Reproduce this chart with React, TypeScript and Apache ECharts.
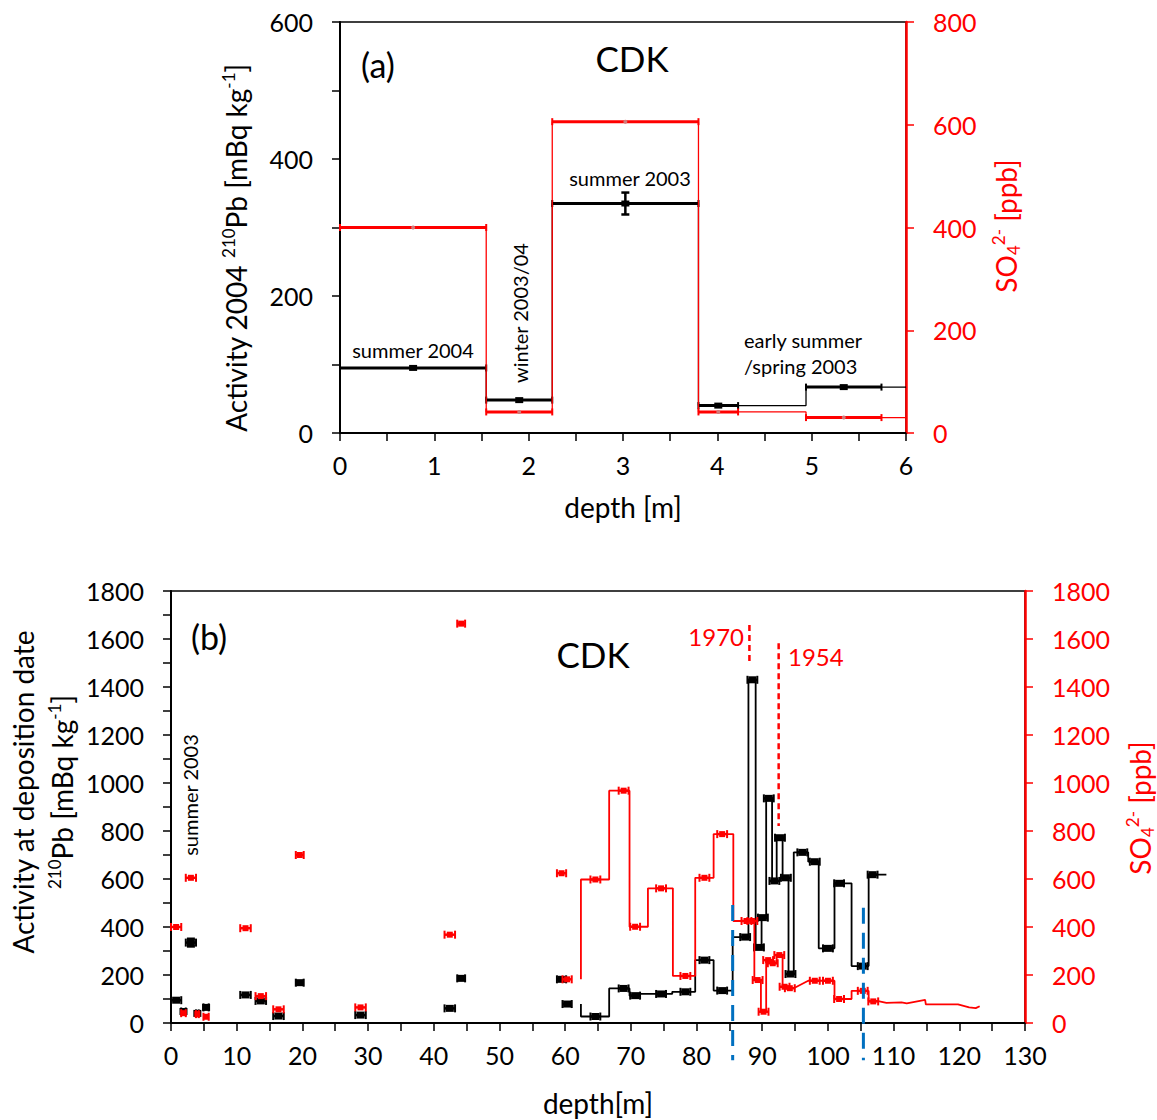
import React, { useEffect, useRef } from "react";
import * as echarts from "echarts";

const RED = "#FF0000";
const BLACK = "#000000";
const BLUE = "#0070C0";
const FONT = "Lato";

// ---------------- Panel (a): CDK, 2004 activity, 0-6 m ----------------
const aDepthStart = [0, 1.55, 2.25, 3.8, 4.94];
const aDepthEnd = [1.55, 2.25, 3.8, 4.22, 5.74];
const aPb = [95, 48, 335, 40, 67];
const aPbErr = [0, 0, 16, 0, 0];
const aSO4 = [400, 41, 606, 41, 30];
const aDepthMax = 6;

// ---------------- Panel (b): isolated samples 0-61 m ----------------
const bIsoDepth = [0.78, 1.9, 3.03, 4.01, 5.34, 11.34, 13.67, 16.36, 19.6, 28.85, 42.44, 44.17, 59.45, 60.3];
const bIsoHalf = [0.78, 0.35, 0.78, 0.21, 0.4, 0.8, 0.8, 0.8, 0.6, 0.8, 0.8, 0.6, 0.7, 0.7];
const bIsoPb = [95, 48, 335, 40, 65, 117, 92, 29, 168, 33, 61, 186, 182, 79];
const bIsoPbErr = [0, 0, 16, 0, 0, 0, 0, 0, 0, 0, 0, 0, 0, 0];
const bIsoSO4 = [400, 41, 605, 37, 26, 395, 112, 57, 700, 65, 368, 1664, 624, 182];

// ---------------- Panel (b): continuous section ----------------
const bPbStart = [62.4, 66.7, 69.8, 71.3, 76.3, 79.8, 82.6, 85.5, 87.9, 89.0, 89.9, 90.6, 91.5, 92.2, 93.1, 94.0, 94.8, 97.0, 98.6, 101.0, 103.6, 106.2];
const bPbMarkDepth = [64.6, 68.9, 70.65, 74.6, 78.3, 81.2, 83.9, 87.4, 88.5, 89.5, 90.1, 91.0, 91.85, 92.7, 93.6, 94.3, 96.1, 98.0, 100.0, 101.7, 105.3, 106.8];
const bPb = [27, 144, 114, 121, 130, 262, 135, 358, 1430, 315, 439, 936, 592, 772, 605, 204, 711, 672, 311, 582, 237, 618];
const bPbEndDepth = 108.9;

const bSO4ProfileDepth = [62.4, 62.4, 66.7, 66.7, 69.8, 69.8, 72.6, 72.6, 76.4, 76.4, 79.8, 79.8, 82.6, 82.6, 85.6, 85.6, 88.8, 88.8, 89.8, 89.8, 90.6, 90.6, 91.3, 91.3, 92.2, 92.2, 93.1, 93.1, 93.8, 93.8, 94.8, 97.0, 101.0, 101.0, 103.6, 103.6, 106.2, 106.2, 107.5, 108.9, 111.2, 112.0, 114.8, 114.9, 119.8, 121.5, 122.5, 123.1];
const bSO4ProfileValue = [182, 598, 598, 968, 968, 401, 401, 561, 561, 196, 196, 605, 605, 787, 787, 425, 425, 179, 179, 47, 47, 262, 262, 249, 249, 283, 283, 151, 151, 145, 145, 176, 176, 100, 100, 134, 134, 92, 92, 84, 86, 82, 96, 78, 78, 65, 62, 70];
const bSO4MarkDepth = [64.6, 68.9, 70.65, 74.6, 78.3, 81.2, 83.9, 87.6, 88.5, 89.3, 90.2, 90.9, 91.6, 92.6, 93.4, 94.2, 98.0, 100.0, 101.7, 105.3, 106.9];
const bSO4Mark = [598, 968, 401, 561, 196, 605, 787, 425, 425, 179, 47, 262, 249, 283, 151, 145, 176, 176, 100, 134, 90];

// Reference lines
const blueLineDepth = [85.5, 105.4];
const blueLineTop = [492, 480];
const blueLineBottom = -155;
const dateLabels = ["1970", "1954"];
const dateDepth = [88.05, 92.5];
const dateTop = [1658, 1582];
const dateBottom = [1505, 821];

type Opts = { lw: number; cap: number; marker: "square" | "dot"; mw: number; mh: number; mfill: string };

function errRenderer(color: string, o: Opts) {
  return (params: any, api: any) => {
    const x = api.value(0), y = api.value(1), xl = api.value(2), xh = api.value(3), yl = api.value(4), yh = api.value(5);
    const c = api.coord([x, y]);
    const l = api.coord([xl, y]);
    const r = api.coord([xh, y]);
    const children: any[] = [
      { type: "line", shape: { x1: l[0], y1: c[1], x2: r[0], y2: c[1] }, style: { stroke: color, lineWidth: o.lw } },
      { type: "line", shape: { x1: l[0], y1: c[1] - o.cap, x2: l[0], y2: c[1] + o.cap }, style: { stroke: color, lineWidth: 2 } },
      { type: "line", shape: { x1: r[0], y1: c[1] - o.cap, x2: r[0], y2: c[1] + o.cap }, style: { stroke: color, lineWidth: 2 } },
    ];
    if (yh > yl) {
      const t = api.coord([x, yh]);
      const b = api.coord([x, yl]);
      children.push({ type: "line", shape: { x1: c[0], y1: t[1], x2: c[0], y2: b[1] }, style: { stroke: color, lineWidth: 2.5 } });
      children.push({ type: "line", shape: { x1: c[0] - 4, y1: t[1], x2: c[0] + 4, y2: t[1] }, style: { stroke: color, lineWidth: 2.5 } });
      children.push({ type: "line", shape: { x1: c[0] - 4, y1: b[1], x2: c[0] + 4, y2: b[1] }, style: { stroke: color, lineWidth: 2.5 } });
    }
    if (o.marker === "square") {
      children.push({ type: "rect", shape: { x: c[0] - o.mw / 2, y: c[1] - o.mh / 2, width: o.mw, height: o.mh }, style: { fill: o.mfill } });
    } else {
      children.push({ type: "circle", shape: { cx: c[0], cy: c[1], r: o.mw / 2 }, style: { fill: o.mfill } });
    }
    return { type: "group", children };
  };
}

function App() {
  const ref = useRef<HTMLDivElement>(null);
  useEffect(() => {
    if (!ref.current) return;
    const chart = echarts.init(ref.current, null, { renderer: "svg" });

    // panel (a) data
    const aPbBars = aDepthStart.map((s, i) => [(s + aDepthEnd[i]) / 2, aPb[i], s, aDepthEnd[i], aPb[i] - aPbErr[i], aPb[i] + aPbErr[i]]);
    const aSO4Bars = aDepthStart.map((s, i) => [(s + aDepthEnd[i]) / 2, aSO4[i], s, aDepthEnd[i], aSO4[i], aSO4[i]]);
    const aPbLine = [...aDepthStart.map((s, i) => [s, aPb[i]]), [aDepthMax, aPb[aPb.length - 1]]];
    const aSO4Line = [...aDepthStart.map((s, i) => [s, aSO4[i]]), [aDepthMax, aSO4[aSO4.length - 1]]];

    // panel (b) data
    const bIsoPbPts = bIsoDepth.map((d, i) => [d, bIsoPb[i], d - bIsoHalf[i], d + bIsoHalf[i], bIsoPb[i] - bIsoPbErr[i], bIsoPb[i] + bIsoPbErr[i]]);
    const bIsoSO4Pts = bIsoDepth.map((d, i) => [d, bIsoSO4[i], d - bIsoHalf[i], d + bIsoHalf[i], bIsoSO4[i], bIsoSO4[i]]);
    const half = 0.75;
    const bPbPts = bPbMarkDepth.map((d, i) => [d, bPb[i], d - half, d + half, bPb[i], bPb[i]]);
    const bSO4Pts = bSO4MarkDepth.map((d, i) => [d, bSO4Mark[i], d - half, d + half, bSO4Mark[i], bSO4Mark[i]]);
    const bPbLine = [
      [bPbStart[0], bIsoPb[bIsoPb.length - 1]],
      ...bPbStart.map((s, i) => [s, bPb[i]]),
      [bPbEndDepth, bPb[bPb.length - 1]],
    ];
    const bSO4Line = bSO4ProfileDepth.map((d, i) => [d, bSO4ProfileValue[i]]);

    const tick = (color: string) => ({ show: true, length: 8, lineStyle: { color, width: 1.5 } });
    const label = (color: string, margin: number) => ({
      color, fontSize: 25, fontFamily: FONT, margin, showMinLabel: true, showMaxLabel: true,
      formatter: (v: number) => String(v),
    });
    const line = (color: string, w: number) => ({ show: true, onZero: false, lineStyle: { color, width: w } });
    const minor = { show: true, splitNumber: 2, length: 8, lineStyle: { color: BLACK, width: 1.5 } };

    const txt = (x: number, y: number, text: string, size: number, color = BLACK, rot = 0, align = "center", rich?: any) => ({
      type: "text",
      x,
      y,
      rotation: rot,
      z: 100,
      style: {
        text,
        fontSize: size,
        fontFamily: FONT,
        fill: color,
        align,
        verticalAlign: "middle",
        textAlign: align,
        textVerticalAlign: "middle",
        rich,
      },
    });
    const supRich = (color: string) => ({
      sup: { fontSize: 17, fontFamily: FONT, fill: color, color, verticalAlign: "top", lineHeight: 32 },
      sub: { fontSize: 17, fontFamily: FONT, fill: color, color, verticalAlign: "bottom", lineHeight: 32 },
    });
    const R90 = Math.PI / 2;
    const TS = 28;

    const option: any = {
      animation: false,
      backgroundColor: "#ffffff",
      grid: [
        { left: 340, top: 22, width: 566, height: 411, show: true, borderColor: BLACK, borderWidth: 1.5, backgroundColor: "transparent" },
        { left: 171, top: 591, width: 854, height: 432, show: true, borderColor: BLACK, borderWidth: 1.5, backgroundColor: "transparent" },
      ],
      xAxis: [
        { gridIndex: 0, type: "value", min: 0, max: 6, interval: 1, axisLine: line(BLACK, 2), axisTick: tick(BLACK), minorTick: minor, splitLine: { show: false }, axisLabel: label(BLACK, 19) },
        { gridIndex: 1, type: "value", min: 0, max: 130, interval: 10, axisLine: line(BLACK, 2), axisTick: tick(BLACK), minorTick: minor, splitLine: { show: false }, axisLabel: label(BLACK, 19) },
      ],
      yAxis: [
        { gridIndex: 0, type: "value", position: "left", min: 0, max: 600, interval: 200, axisLine: line(BLACK, 2), axisTick: tick(BLACK), minorTick: minor, splitLine: { show: false }, axisLabel: label(BLACK, 27) },
        { gridIndex: 0, type: "value", position: "right", min: 0, max: 800, interval: 200, axisLine: line(RED, 2.5), axisTick: tick(RED), splitLine: { show: false }, axisLabel: label(RED, 27) },
        { gridIndex: 1, type: "value", position: "left", min: 0, max: 1800, interval: 200, axisLine: line(BLACK, 2), axisTick: tick(BLACK), minorTick: minor, splitLine: { show: false }, axisLabel: label(BLACK, 27) },
        { gridIndex: 1, type: "value", position: "right", min: 0, max: 1800, interval: 200, axisLine: line(RED, 2.5), axisTick: tick(RED), splitLine: { show: false }, axisLabel: label(RED, 27) },
      ],
      series: [
        // panel (a)
        { type: "line", xAxisIndex: 0, yAxisIndex: 0, data: aPbLine, step: "end", symbol: "none", lineStyle: { color: BLACK, width: 1.3 }, z: 3 },
        { type: "custom", xAxisIndex: 0, yAxisIndex: 0, data: aPbBars, z: 4, renderItem: errRenderer(BLACK, { lw: 3, cap: 3.5, marker: "square", mw: 8, mh: 6, mfill: BLACK }) },
        { type: "line", xAxisIndex: 0, yAxisIndex: 1, data: aSO4Line, step: "end", symbol: "none", lineStyle: { color: RED, width: 1.3 }, z: 5 },
        { type: "custom", xAxisIndex: 0, yAxisIndex: 1, data: aSO4Bars, z: 6, renderItem: errRenderer(RED, { lw: 3, cap: 3.5, marker: "dot", mw: 4, mh: 4, mfill: "#d07a7a" }) },
        // panel (b)
        { type: "line", xAxisIndex: 1, yAxisIndex: 2, data: bPbLine, step: "end", symbol: "none", lineStyle: { color: BLACK, width: 1.8 }, z: 3 },
        { type: "line", xAxisIndex: 1, yAxisIndex: 3, data: bSO4Line, symbol: "none", lineStyle: { color: RED, width: 1.8 }, z: 5 },
        { type: "custom", xAxisIndex: 1, yAxisIndex: 2, data: bIsoPbPts, z: 4, renderItem: errRenderer(BLACK, { lw: 2.5, cap: 4, marker: "square", mw: 8, mh: 7, mfill: BLACK }) },
        { type: "custom", xAxisIndex: 1, yAxisIndex: 2, data: bPbPts, z: 4, renderItem: errRenderer(BLACK, { lw: 2.5, cap: 4, marker: "square", mw: 8, mh: 7, mfill: BLACK }) },
        { type: "custom", xAxisIndex: 1, yAxisIndex: 3, data: bIsoSO4Pts, z: 6, renderItem: errRenderer(RED, { lw: 2.5, cap: 4, marker: "square", mw: 6, mh: 6, mfill: RED }) },
        { type: "custom", xAxisIndex: 1, yAxisIndex: 3, data: bSO4Pts, z: 6, renderItem: errRenderer(RED, { lw: 2.5, cap: 4, marker: "square", mw: 6, mh: 6, mfill: RED }) },
        ...blueLineDepth.map((d, i) => ({
          type: "line", xAxisIndex: 1, yAxisIndex: 2, clip: false, symbol: "none", z: 10,
          data: [[d, blueLineTop[i]], [d, blueLineBottom]],
          lineStyle: { color: BLUE, width: 3, type: [16, 9] },
        })),
        ...dateDepth.map((d, i) => ({
          type: "line", xAxisIndex: 1, yAxisIndex: 3, clip: false, symbol: "none", z: 10,
          data: [[d, dateTop[i]], [d, dateBottom[i]]],
          lineStyle: { color: RED, width: 2.5, type: [6, 4] },
        })),
      ],
      graphic: {
        elements: [
          txt(378, 64, "(a)", 34),
          txt(632, 58, "CDK", 35),
          txt(413, 350, "summer 2004", 20),
          txt(520, 313, "winter 2003/04", 20, BLACK, R90),
          txt(630, 178, "summer 2003", 20),
          txt(744, 340, "early summer", 20, BLACK, 0, "left"),
          txt(744, 366, "/spring 2003", 20, BLACK, 0, "left"),
          txt(236, 248, "Activity 2004 {sup|210}Pb [mBq kg{sup|-1}]", TS, BLACK, R90, "center", supRich(BLACK)),
          txt(1006, 226, "SO{sub|4}{sup|2-} [ppb]", TS, RED, R90, "center", supRich(RED)),
          txt(623, 507, "depth [m]", TS),

          txt(209, 636, "(b)", 34),
          txt(593, 654, "CDK", 35),
          txt(190, 795, "summer 2003", 20, BLACK, R90),
          txt(744, 636, dateLabels[0], 24, RED, 0, "right"),
          txt(788, 656, dateLabels[1], 24, RED, 0, "left"),
          txt(23, 792, "Activity at deposition date", TS, BLACK, R90),
          txt(62, 792, "{sup|210}Pb [mBq kg{sup|-1}]", TS, BLACK, R90, "center", supRich(BLACK)),
          txt(1140, 808, "SO{sub|4}{sup|2-} [ppb]", TS, RED, R90, "center", supRich(RED)),
          txt(598, 1103, "depth[m]", TS),
        ],
      },
    };
    chart.setOption(option);
    return () => chart.dispose();
  }, []);
  return <div ref={ref} style={{ position: "absolute", left: 0, top: 0, width: 1157, height: 1120, background: "#fff" }} />;
}

export default App;
